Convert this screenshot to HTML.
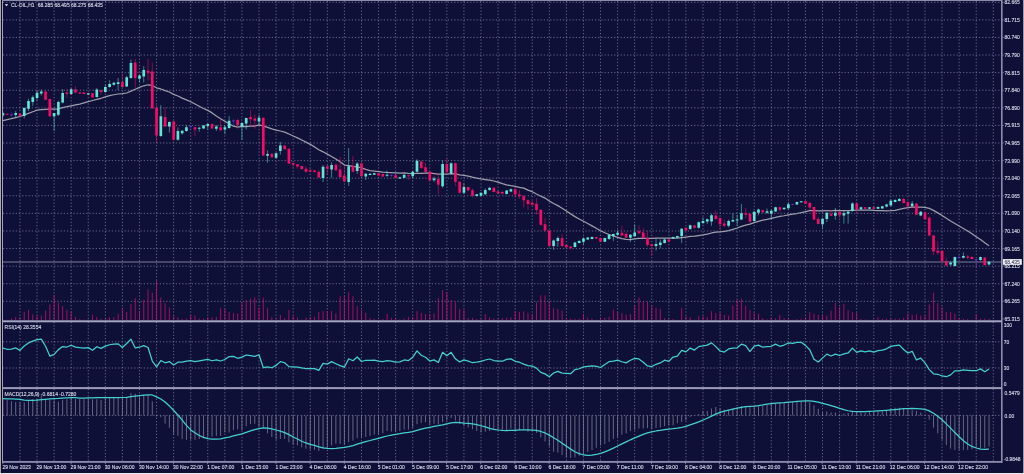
<!DOCTYPE html><html><head><meta charset="utf-8"><style>
html,body{margin:0;padding:0;width:1024px;height:474px;overflow:hidden;background:#0f1038}
svg{display:block}
text{font-family:"Liberation Sans",Arial,sans-serif;fill:#d4d8e8;stroke:#d4d8e8;stroke-width:0.15px}
</style></head><body>
<svg width="1024" height="474" viewBox="0 0 1024 474">
<rect x="0" y="0" width="1024" height="474" fill="#0f1038"/>
<path d="M19.96 1.0V320.0M19.96 322.0V387.0M19.96 389.0V461.0M37.03 1.0V320.0M37.03 322.0V387.0M37.03 389.0V461.0M54.11 1.0V320.0M54.11 322.0V387.0M54.11 389.0V461.0M71.18 1.0V320.0M71.18 322.0V387.0M71.18 389.0V461.0M88.26 1.0V320.0M88.26 322.0V387.0M88.26 389.0V461.0M105.34 1.0V320.0M105.34 322.0V387.0M105.34 389.0V461.0M122.41 1.0V320.0M122.41 322.0V387.0M122.41 389.0V461.0M139.49 1.0V320.0M139.49 322.0V387.0M139.49 389.0V461.0M156.56 1.0V320.0M156.56 322.0V387.0M156.56 389.0V461.0M173.64 1.0V320.0M173.64 322.0V387.0M173.64 389.0V461.0M190.72 1.0V320.0M190.72 322.0V387.0M190.72 389.0V461.0M207.79 1.0V320.0M207.79 322.0V387.0M207.79 389.0V461.0M224.87 1.0V320.0M224.87 322.0V387.0M224.87 389.0V461.0M241.94 1.0V320.0M241.94 322.0V387.0M241.94 389.0V461.0M259.02 1.0V320.0M259.02 322.0V387.0M259.02 389.0V461.0M276.10 1.0V320.0M276.10 322.0V387.0M276.10 389.0V461.0M293.17 1.0V320.0M293.17 322.0V387.0M293.17 389.0V461.0M310.25 1.0V320.0M310.25 322.0V387.0M310.25 389.0V461.0M327.32 1.0V320.0M327.32 322.0V387.0M327.32 389.0V461.0M344.40 1.0V320.0M344.40 322.0V387.0M344.40 389.0V461.0M361.48 1.0V320.0M361.48 322.0V387.0M361.48 389.0V461.0M378.55 1.0V320.0M378.55 322.0V387.0M378.55 389.0V461.0M395.63 1.0V320.0M395.63 322.0V387.0M395.63 389.0V461.0M412.70 1.0V320.0M412.70 322.0V387.0M412.70 389.0V461.0M429.78 1.0V320.0M429.78 322.0V387.0M429.78 389.0V461.0M446.86 1.0V320.0M446.86 322.0V387.0M446.86 389.0V461.0M463.93 1.0V320.0M463.93 322.0V387.0M463.93 389.0V461.0M481.01 1.0V320.0M481.01 322.0V387.0M481.01 389.0V461.0M498.08 1.0V320.0M498.08 322.0V387.0M498.08 389.0V461.0M515.16 1.0V320.0M515.16 322.0V387.0M515.16 389.0V461.0M532.24 1.0V320.0M532.24 322.0V387.0M532.24 389.0V461.0M549.31 1.0V320.0M549.31 322.0V387.0M549.31 389.0V461.0M566.39 1.0V320.0M566.39 322.0V387.0M566.39 389.0V461.0M583.46 1.0V320.0M583.46 322.0V387.0M583.46 389.0V461.0M600.54 1.0V320.0M600.54 322.0V387.0M600.54 389.0V461.0M617.62 1.0V320.0M617.62 322.0V387.0M617.62 389.0V461.0M634.69 1.0V320.0M634.69 322.0V387.0M634.69 389.0V461.0M651.77 1.0V320.0M651.77 322.0V387.0M651.77 389.0V461.0M668.84 1.0V320.0M668.84 322.0V387.0M668.84 389.0V461.0M685.92 1.0V320.0M685.92 322.0V387.0M685.92 389.0V461.0M703.00 1.0V320.0M703.00 322.0V387.0M703.00 389.0V461.0M720.07 1.0V320.0M720.07 322.0V387.0M720.07 389.0V461.0M737.15 1.0V320.0M737.15 322.0V387.0M737.15 389.0V461.0M754.22 1.0V320.0M754.22 322.0V387.0M754.22 389.0V461.0M771.30 1.0V320.0M771.30 322.0V387.0M771.30 389.0V461.0M788.38 1.0V320.0M788.38 322.0V387.0M788.38 389.0V461.0M805.45 1.0V320.0M805.45 322.0V387.0M805.45 389.0V461.0M822.53 1.0V320.0M822.53 322.0V387.0M822.53 389.0V461.0M839.60 1.0V320.0M839.60 322.0V387.0M839.60 389.0V461.0M856.68 1.0V320.0M856.68 322.0V387.0M856.68 389.0V461.0M873.76 1.0V320.0M873.76 322.0V387.0M873.76 389.0V461.0M890.83 1.0V320.0M890.83 322.0V387.0M890.83 389.0V461.0M907.91 1.0V320.0M907.91 322.0V387.0M907.91 389.0V461.0M924.98 1.0V320.0M924.98 322.0V387.0M924.98 389.0V461.0M942.06 1.0V320.0M942.06 322.0V387.0M942.06 389.0V461.0M959.14 1.0V320.0M959.14 322.0V387.0M959.14 389.0V461.0M976.21 1.0V320.0M976.21 322.0V387.0M976.21 389.0V461.0M993.29 1.0V320.0M993.29 322.0V387.0M993.29 389.0V461.0M3 2.27H1001M3 19.86H1001M3 37.45H1001M3 55.05H1001M3 72.64H1001M3 90.23H1001M3 107.82H1001M3 125.41H1001M3 143.01H1001M3 160.60H1001M3 178.19H1001M3 195.78H1001M3 213.37H1001M3 230.97H1001M3 248.56H1001M3 266.15H1001M3 283.74H1001M3 301.33H1001M3 341.80H1001M3 368.00H1001M3 415.40H1001" stroke="#9a9abb" stroke-width="1" stroke-dasharray="1.2 2.0" fill="none" opacity="0.64"/>
<path d="M2.88 319.00V320M7.15 319.70V320M11.42 318.50V320M15.69 317.10V320M19.96 317.10V320M24.22 311.90V320M28.49 310.00V320M32.76 314.40V320M37.03 316.00V320M41.30 315.60V320M45.57 310.60V320M49.84 304.40V320M54.11 295.00V320M58.38 302.75V320M62.65 306.00V320M66.91 309.75V320M71.18 311.50V320M75.45 317.00V320M79.72 319.00V320M83.99 319.50V320M88.26 319.50V320M92.53 314.75V320M96.80 317.00V320M101.07 318.75V320M105.34 318.75V320M109.61 317.00V320M113.87 317.00V320M118.14 313.75V320M122.41 307.75V320M126.68 311.90V320M130.95 304.00V320M135.22 298.10V320M139.49 310.60V320M143.76 299.75V320M148.03 289.40V320M152.29 292.75V320M156.56 281.00V320M160.83 297.50V320M165.10 303.10V320M169.37 307.50V320M173.64 316.00V320M177.91 317.25V320M182.18 319.00V320M186.45 318.75V320M190.72 315.00V320M194.99 315.60V320M199.25 318.50V320M203.52 318.75V320M207.79 317.25V320M212.06 317.25V320M216.33 316.90V320M220.60 308.10V320M224.87 309.00V320M229.14 312.25V320M233.41 313.10V320M237.68 313.50V320M241.94 302.75V320M246.21 300.00V320M250.48 298.50V320M254.75 297.25V320M259.02 307.50V320M263.29 297.75V320M267.56 308.10V320M271.83 317.25V320M276.10 319.00V320M280.37 315.00V320M284.63 318.10V320M288.90 310.00V320M293.17 316.00V320M297.44 317.50V320M301.71 319.40V320M305.98 317.75V320M310.25 316.90V320M314.52 316.90V320M318.79 311.90V320M323.06 311.00V320M327.32 311.00V320M331.59 311.00V320M335.86 313.50V320M340.13 296.00V320M344.40 295.60V320M348.67 292.25V320M352.94 296.25V320M357.21 306.00V320M361.48 310.00V320M365.75 312.75V320M370.01 318.10V320M374.28 318.90V320M378.55 319.75V320M382.82 319.00V320M387.09 314.00V320M391.36 317.75V320M395.63 318.50V320M399.90 319.40V320M404.17 318.75V320M408.44 316.90V320M412.70 316.90V320M416.97 311.00V320M421.24 313.10V320M425.51 314.00V320M429.78 314.00V320M434.05 313.50V320M438.32 298.10V320M442.59 290.00V320M446.86 292.50V320M451.12 300.00V320M455.39 302.25V320M459.66 308.75V320M463.93 309.75V320M468.20 318.10V320M472.47 317.75V320M476.74 319.00V320M481.01 319.00V320M485.28 314.00V320M489.55 317.50V320M493.81 318.50V320M498.08 319.20V320M502.35 318.10V320M506.62 317.75V320M510.89 317.25V320M515.16 311.00V320M519.43 311.90V320M523.70 311.25V320M527.97 312.75V320M532.24 314.40V320M536.50 302.25V320M540.77 295.25V320M545.04 295.25V320M549.31 301.00V320M553.58 308.10V320M557.85 309.00V320M562.12 310.60V320M566.39 318.10V320M570.66 318.75V320M574.93 318.75V320M579.20 318.75V320M583.46 314.00V320M587.73 317.75V320M592.00 318.75V320M596.27 319.75V320M600.54 317.75V320M604.81 317.75V320M609.08 316.90V320M613.35 309.75V320M617.62 311.50V320M621.88 313.10V320M626.15 314.75V320M630.42 314.00V320M634.69 305.60V320M638.96 297.50V320M643.23 301.90V320M647.50 301.90V320M651.77 305.60V320M656.04 307.75V320M660.31 308.75V320M664.58 318.10V320M668.84 319.00V320M673.11 319.00V320M677.38 319.75V320M681.65 307.75V320M685.92 316.25V320M690.19 317.25V320M694.46 319.75V320M698.73 316.25V320M703.00 316.25V320M707.26 317.25V320M711.53 311.25V320M715.80 313.10V320M720.07 312.50V320M724.34 315.00V320M728.61 315.60V320M732.88 305.60V320M737.15 300.00V320M741.42 298.50V320M745.69 305.60V320M749.96 310.00V320M754.22 312.75V320M758.49 313.75V320M762.76 318.10V320M767.03 319.40V320M771.30 317.75V320M775.57 318.50V320M779.84 315.00V320M784.11 318.10V320M788.38 318.50V320M792.64 319.75V320M796.91 319.00V320M801.18 318.75V320M805.45 317.50V320M809.72 312.25V320M813.99 313.75V320M818.26 314.75V320M822.53 314.75V320M826.80 315.60V320M831.07 310.60V320M835.34 302.75V320M839.60 306.90V320M843.87 303.75V320M848.14 310.00V320M852.41 312.25V320M856.68 312.75V320M860.95 319.00V320M865.22 319.40V320M869.49 319.75V320M873.76 319.40V320M878.02 317.25V320M882.29 318.75V320M886.56 318.75V320M890.83 319.00V320M895.10 318.75V320M899.37 318.75V320M903.64 317.75V320M907.91 313.50V320M912.18 315.00V320M916.45 314.40V320M920.72 315.60V320M924.98 315.60V320M929.25 304.40V320M933.52 292.75V320M937.79 303.10V320M942.06 306.90V320M946.33 311.90V320M950.60 312.25V320M954.87 313.50V320M959.14 318.10V320M963.40 318.75V320M967.67 319.00V320M971.94 319.75V320M976.21 314.40V320M980.48 318.75V320M984.75 318.75V320M989.02 319.00V320" stroke="#d0106e" stroke-width="0.75" fill="none"/>
<path d="M3 261.9H1001" stroke="#585878" stroke-width="1.5" fill="none"/>
<polyline points="2.88,120.60 7.15,119.58 11.42,118.56 15.69,117.53 19.96,116.51 24.22,114.92 28.49,113.33 32.76,111.74 37.03,110.18 41.30,109.68 45.57,109.38 49.84,109.20 54.11,109.02 58.38,108.84 62.65,107.72 66.91,106.70 71.18,105.82 75.45,104.94 79.72,104.06 83.99,102.88 88.26,101.63 92.53,100.52 96.80,99.32 101.07,98.28 105.34,96.86 109.61,95.66 113.87,94.75 118.14,94.00 122.41,93.71 126.68,93.00 130.95,91.16 135.22,89.25 139.49,87.36 143.76,85.77 148.03,84.76 152.29,85.47 156.56,87.78 160.83,88.97 165.10,90.61 169.37,92.02 173.64,94.34 177.91,96.02 182.18,98.07 186.45,99.84 190.72,101.80 194.99,104.07 199.25,106.32 203.52,108.48 207.79,110.34 212.06,112.89 216.33,116.07 220.60,118.69 224.87,121.28 229.14,123.82 233.41,126.20 237.68,127.04 241.94,126.42 246.21,126.51 250.48,126.14 254.75,126.07 259.02,124.97 263.29,126.20 267.56,127.36 271.83,128.86 276.10,130.21 280.37,131.01 284.63,132.08 288.90,133.99 293.17,136.02 297.44,137.92 301.71,140.04 305.98,142.11 310.25,144.33 314.52,146.90 318.79,149.74 323.06,151.82 327.32,154.12 331.59,156.47 335.86,159.03 340.13,161.84 344.40,165.02 348.67,165.56 352.94,166.45 357.21,166.77 361.48,167.91 365.75,169.33 370.01,170.55 374.28,171.03 378.55,171.58 382.82,172.08 387.09,172.37 391.36,172.56 395.63,172.86 399.90,173.12 404.17,172.98 408.44,173.45 412.70,173.60 416.97,173.38 421.24,173.27 425.51,173.02 429.78,172.96 434.05,173.56 438.32,174.21 442.59,174.23 446.86,174.03 451.12,173.51 455.39,173.92 459.66,174.90 463.93,175.47 468.20,176.17 472.47,177.22 476.74,178.16 481.01,178.92 485.28,179.55 489.55,180.20 493.81,180.99 498.08,182.06 502.35,183.70 506.62,184.82 510.89,185.69 515.16,186.40 519.43,187.30 523.70,188.08 527.97,190.08 532.24,191.70 536.50,194.04 540.77,196.19 545.04,198.07 549.31,201.03 553.58,203.53 557.85,205.64 562.12,208.23 566.39,210.95 570.66,213.88 574.93,216.61 579.20,219.06 583.46,221.32 587.73,223.52 592.00,225.86 596.27,228.32 600.54,230.69 604.81,232.78 609.08,234.50 613.35,235.99 617.62,237.40 621.88,238.67 626.15,239.32 630.42,239.53 634.69,238.84 638.96,238.48 643.23,238.48 647.50,238.43 651.77,238.37 656.04,238.15 660.31,238.15 664.58,238.07 668.84,238.22 673.11,238.19 677.38,238.15 681.65,237.65 685.92,237.10 690.19,236.46 694.46,236.10 698.73,235.51 703.00,234.92 707.26,234.11 711.53,232.98 715.80,232.21 720.07,231.80 724.34,231.43 728.61,230.57 732.88,229.32 737.15,228.00 741.42,226.46 745.69,225.07 749.96,224.19 754.22,222.70 758.49,221.33 762.76,220.14 767.03,219.27 771.30,218.27 775.57,217.37 779.84,216.47 784.11,215.75 788.38,214.91 792.64,214.18 796.91,213.51 801.18,212.62 805.45,211.59 809.72,210.68 813.99,210.59 818.26,210.80 822.53,210.76 826.80,210.73 831.07,210.78 835.34,210.34 839.60,210.51 843.87,210.69 848.14,210.67 852.41,210.29 856.68,210.23 860.95,210.23 865.22,210.19 869.49,210.17 873.76,210.40 878.02,210.52 882.29,210.74 886.56,210.89 890.83,210.74 895.10,210.36 899.37,209.33 903.64,208.28 907.91,207.66 912.18,207.20 916.45,207.15 920.72,207.09 924.98,207.29 929.25,208.41 933.52,210.39 937.79,212.85 942.06,215.43 946.33,218.34 950.60,221.04 954.87,223.53 959.14,225.96 963.40,228.42 967.67,231.00 971.94,233.73 976.21,236.65 980.48,239.51 984.75,242.81 989.02,245.76" stroke="#9c9eaa" stroke-width="1.25" fill="none" stroke-linejoin="round"/>
<path d="M2.88 111.50V117.00M15.69 111.00V117.60M24.22 107.50V118.30M28.49 98.70V111.00M32.76 95.50V105.80M37.03 90.30V100.60M41.30 89.50V95.50M54.11 113.00V131.00M58.38 100.70V116.00M62.65 89.00V103.60M71.18 88.10V94.80M88.26 93.00V95.00M96.80 88.10V97.40M105.34 84.70V92.80M109.61 80.30V87.70M113.87 81.80V85.50M118.14 78.00V89.90M126.68 75.90V87.00M130.95 59.60V78.80M139.49 74.40V82.50M143.76 66.20V82.50M160.83 105.10V136.90M169.37 121.40V132.40M177.91 127.30V140.60M182.18 130.20V134.70M186.45 125.00V131.70M199.25 127.00V131.70M203.52 125.00V128.80M207.79 123.60V129.50M216.33 125.10V131.00M224.87 125.10V134.00M229.14 116.20V128.80M241.94 122.20V139.90M246.21 117.70V129.50M259.02 114.80V125.10M267.56 150.30V162.80M276.10 152.50V158.40M280.37 141.90V154.70M323.06 165.10V182.10M331.59 162.20V177.70M348.67 148.10V185.80M357.21 162.20V174.00M365.75 173.20V179.90M370.01 173.30V175.30M374.28 172.80V175.10M387.09 170.70V176.90M399.90 176.90V178.80M404.17 174.30V178.10M412.70 171.00V178.40M416.97 159.20V172.50M434.05 176.60V181.80M442.59 160.30V187.70M451.12 162.60V174.40M463.93 183.20V193.60M476.74 194.00V196.50M481.01 192.50V196.10M485.28 188.40V195.10M489.55 187.00V190.70M506.62 190.00V194.40M510.89 188.50V192.20M553.58 239.50V249.80M557.85 236.50V246.90M574.93 241.70V247.60M579.20 240.20V243.20M583.46 237.30V244.70M587.73 237.20V239.90M592.00 236.80V239.20M604.81 237.70V242.10M609.08 234.00V239.90M613.35 233.70V241.10M617.62 230.30V235.50M630.42 234.00V242.10M634.69 224.40V236.90M656.04 238.70V250.60M660.31 239.50V248.30M664.58 238.70V243.50M673.11 236.60V238.80M677.38 235.80V238.00M681.65 228.10V243.20M690.19 224.70V229.90M698.73 221.30V228.70M703.00 217.30V224.30M707.26 218.50V223.80M711.53 214.00V225.80M728.61 219.60V227.30M732.88 213.20V222.10M737.15 214.70V225.80M741.42 203.90V220.20M754.22 210.80V221.70M758.49 208.70V215.30M767.03 208.60V213.70M771.30 209.70V219.30M775.57 206.80V212.00M784.11 207.40V209.70M788.38 202.30V209.30M796.91 201.60V205.00M801.18 201.00V202.70M822.53 217.70V228.70M826.80 212.20V222.10M835.34 208.10V219.60M843.87 211.00V223.60M848.14 210.50V223.60M852.41 202.20V211.80M860.95 206.60V209.60M869.49 207.00V209.20M878.02 206.50V209.20M882.29 206.00V208.80M886.56 203.60V207.30M890.83 199.20V205.80M895.10 199.20V202.20M899.37 198.00V201.40M912.18 201.00V206.60M920.72 211.00V216.20M950.60 261.20V265.90M954.87 256.60V266.30M963.40 252.40V258.30M980.48 256.60V260.80M989.02 261.20V265.00" stroke="#5fe6d6" stroke-width="0.7" fill="none" opacity="0.75"/>
<path d="M1.54 113.00h2.67v2.50h-2.67zM14.35 112.90h2.67v2.10h-2.67zM22.89 108.00h2.67v8.10h-2.67zM27.16 101.00h2.67v7.70h-2.67zM31.43 97.20h2.67v4.90h-2.67zM35.70 92.80h2.67v5.30h-2.67zM39.97 91.50h2.67v2.00h-2.67zM52.77 113.00h2.67v3.20h-2.67zM57.04 102.00h2.67v12.70h-2.67zM61.31 93.00h2.67v9.50h-2.67zM69.85 89.20h2.67v4.80h-2.67zM86.92 93.30h2.67v1.20h-2.67zM95.46 89.60h2.67v7.40h-2.67zM104.00 86.90h2.67v5.20h-2.67zM108.27 84.00h2.67v2.90h-2.67zM112.54 82.80h2.67v1.90h-2.67zM116.81 82.20h2.67v1.80h-2.67zM125.35 77.30h2.67v9.30h-2.67zM129.61 63.00h2.67v15.00h-2.67zM138.15 75.40h2.67v3.40h-2.67zM142.42 70.00h2.67v6.60h-2.67zM159.50 116.20h2.67v19.90h-2.67zM168.04 122.10h2.67v4.40h-2.67zM176.57 131.00h2.67v8.80h-2.67zM180.84 130.70h2.67v2.50h-2.67zM185.11 127.30h2.67v3.70h-2.67zM197.92 127.70h2.67v1.00h-2.67zM202.19 125.50h2.67v2.90h-2.67zM206.46 124.00h2.67v2.00h-2.67zM215.00 126.60h2.67v2.20h-2.67zM223.53 127.30h2.67v2.20h-2.67zM227.80 120.70h2.67v7.40h-2.67zM240.61 122.90h2.67v3.70h-2.67zM244.88 118.00h2.67v5.60h-2.67zM257.69 117.70h2.67v3.70h-2.67zM266.22 154.00h2.67v1.70h-2.67zM274.76 153.20h2.67v4.50h-2.67zM279.03 145.40h2.67v5.60h-2.67zM321.72 166.70h2.67v11.30h-2.67zM330.26 165.10h2.67v4.40h-2.67zM347.33 166.30h2.67v15.80h-2.67zM355.87 163.60h2.67v7.40h-2.67zM364.41 173.70h2.67v2.90h-2.67zM368.68 173.70h2.67v1.20h-2.67zM372.95 173.20h2.67v1.50h-2.67zM385.76 174.70h2.67v1.00h-2.67zM398.56 177.20h2.67v1.20h-2.67zM402.83 174.70h2.67v3.00h-2.67zM411.37 171.80h2.67v4.40h-2.67zM415.64 160.70h2.67v11.10h-2.67zM432.71 178.40h2.67v1.90h-2.67zM441.25 164.00h2.67v22.20h-2.67zM449.79 163.30h2.67v10.30h-2.67zM462.60 186.90h2.67v5.90h-2.67zM475.40 194.30h2.67v1.80h-2.67zM479.67 192.80h2.67v3.00h-2.67zM483.94 189.90h2.67v4.30h-2.67zM488.21 187.70h2.67v2.30h-2.67zM505.29 190.40h2.67v3.50h-2.67zM509.56 189.20h2.67v2.20h-2.67zM552.25 240.50h2.67v5.60h-2.67zM556.51 238.00h2.67v3.00h-2.67zM573.59 242.40h2.67v4.50h-2.67zM577.86 241.00h2.67v1.90h-2.67zM582.13 238.40h2.67v3.30h-2.67zM586.40 237.60h2.67v1.90h-2.67zM590.67 237.10h2.67v1.80h-2.67zM603.47 238.10h2.67v3.60h-2.67zM607.74 234.70h2.67v4.40h-2.67zM612.01 234.00h2.67v2.20h-2.67zM616.28 232.80h2.67v1.90h-2.67zM629.09 234.70h2.67v3.00h-2.67zM633.36 232.50h2.67v3.70h-2.67zM654.70 243.90h2.67v2.20h-2.67zM658.97 242.40h2.67v2.50h-2.67zM663.24 239.50h2.67v3.40h-2.67zM671.78 237.00h2.67v1.40h-2.67zM676.05 236.10h2.67v1.50h-2.67zM680.32 228.70h2.67v7.40h-2.67zM688.85 225.20h2.67v3.90h-2.67zM697.39 222.20h2.67v5.50h-2.67zM701.66 220.90h2.67v2.20h-2.67zM705.93 219.30h2.67v2.30h-2.67zM710.20 215.20h2.67v6.20h-2.67zM727.27 221.10h2.67v4.70h-2.67zM731.54 219.90h2.67v1.50h-2.67zM735.81 219.60h2.67v1.00h-2.67zM740.08 213.20h2.67v6.40h-2.67zM752.89 211.80h2.67v9.30h-2.67zM757.16 209.60h2.67v3.20h-2.67zM765.70 211.20h2.67v1.50h-2.67zM769.97 210.70h2.67v3.00h-2.67zM774.23 207.20h2.67v4.40h-2.67zM782.77 207.80h2.67v1.50h-2.67zM787.04 204.20h2.67v4.00h-2.67zM795.58 201.90h2.67v2.60h-2.67zM799.85 201.30h2.67v1.00h-2.67zM821.19 218.70h2.67v5.60h-2.67zM825.46 212.80h2.67v6.30h-2.67zM834.00 212.80h2.67v2.90h-2.67zM842.54 213.20h2.67v2.30h-2.67zM846.81 211.80h2.67v1.90h-2.67zM851.08 203.60h2.67v7.40h-2.67zM859.61 207.30h2.67v1.90h-2.67zM868.15 207.30h2.67v1.50h-2.67zM876.69 206.90h2.67v1.90h-2.67zM880.96 206.30h2.67v2.10h-2.67zM885.23 204.40h2.67v2.20h-2.67zM889.50 200.70h2.67v4.70h-2.67zM893.77 199.90h2.67v2.00h-2.67zM898.03 198.90h2.67v2.10h-2.67zM910.84 203.60h2.67v2.70h-2.67zM919.38 211.80h2.67v3.70h-2.67zM949.26 262.80h2.67v1.70h-2.67zM953.53 257.10h2.67v8.80h-2.67zM962.07 256.10h2.67v1.70h-2.67zM979.15 257.10h2.67v2.90h-2.67zM987.68 261.70h2.67v2.80h-2.67z" fill="#5fe6d6"/>
<path d="M7.15 113.50V115.00M19.96 113.00V116.50M45.57 90.50V100.00M49.84 98.70V117.00M66.91 88.60V97.70M75.45 86.20V93.30M79.72 92.00V94.00M83.99 92.30V94.30M92.53 93.00V97.60M101.07 90.00V94.30M122.41 73.60V87.70M135.22 58.90V87.70M148.03 58.90V80.30M152.29 62.60V109.00M156.56 105.10V142.00M165.10 107.30V127.30M173.64 120.70V140.60M194.99 127.30V136.10M212.06 123.60V128.80M220.60 119.20V131.00M237.68 118.50V128.80M250.48 110.00V127.30M254.75 114.80V128.80M263.29 117.40V156.00M271.83 153.30V157.70M284.63 145.10V149.60M288.90 148.50V164.00M293.17 162.80V168.70M297.44 164.00V168.40M301.71 165.80V169.50M305.98 166.50V172.40M310.25 168.00V172.40M314.52 170.20V172.40M318.79 170.20V177.80M327.32 164.40V174.70M335.86 163.60V171.00M340.13 157.00V177.70M344.40 165.80V182.10M352.94 156.20V172.50M361.48 162.90V176.90M378.55 173.00V176.20M382.82 173.70V177.00M395.63 174.90V178.10M408.44 174.90V179.90M421.24 160.70V168.80M425.51 162.90V172.50M429.78 170.70V181.40M438.32 172.90V194.30M446.86 158.90V174.40M455.39 162.60V186.20M459.66 181.40V193.60M468.20 186.50V191.00M472.47 188.40V197.30M493.81 187.00V192.20M498.08 191.00V193.60M502.35 190.70V194.40M515.16 187.70V196.60M519.43 190.00V198.80M523.70 195.10V207.70M527.97 199.50V209.90M532.24 201.00V205.50M536.50 198.10V214.40M540.77 209.20V225.50M545.04 218.10V232.10M549.31 229.90V246.90M562.12 234.30V246.90M566.39 244.50V247.80M570.66 246.00V249.10M596.27 236.80V238.90M600.54 237.70V242.10M621.88 225.80V236.20M626.15 231.80V238.10M638.96 225.40V234.00M643.23 228.10V238.70M647.50 231.00V246.70M651.77 243.70V256.00M668.84 239.20V242.40M685.92 227.00V231.30M694.46 224.70V228.50M715.80 210.30V219.60M720.07 217.70V229.50M724.34 219.90V227.00M745.69 208.10V218.40M749.96 213.20V222.80M762.76 209.60V213.10M779.84 206.80V211.90M805.45 201.00V204.20M809.72 201.60V209.70M813.99 206.90V219.80M818.26 216.90V224.30M831.07 209.50V216.20M839.60 211.00V217.70M856.68 202.20V212.80M865.22 207.00V209.20M873.76 207.00V209.20M903.64 197.70V203.30M907.91 201.90V209.50M916.45 202.90V215.10M924.98 211.50V219.80M929.25 216.10V236.40M933.52 235.20V254.90M937.79 241.40V254.90M942.06 249.80V261.70M946.33 257.80V265.90M967.67 254.90V259.10M971.94 256.00V259.40M984.75 257.10V265.50" stroke="#f50c66" stroke-width="0.7" fill="none" opacity="0.75"/>
<path d="M5.81 113.80h2.67v1.00h-2.67zM18.62 113.50h2.67v2.30h-2.67zM44.23 91.50h2.67v8.30h-2.67zM48.50 99.00h2.67v17.20h-2.67zM65.58 92.60h2.67v1.40h-2.67zM74.12 89.60h2.67v3.00h-2.67zM78.39 92.60h2.67v1.00h-2.67zM82.66 92.60h2.67v1.40h-2.67zM91.19 93.30h2.67v4.10h-2.67zM99.73 90.30h2.67v1.80h-2.67zM121.08 81.80h2.67v5.10h-2.67zM133.88 62.60h2.67v15.40h-2.67zM146.69 70.70h2.67v2.20h-2.67zM150.96 71.40h2.67v36.90h-2.67zM155.23 108.00h2.67v27.40h-2.67zM163.77 116.90h2.67v9.60h-2.67zM172.30 121.40h2.67v18.40h-2.67zM193.65 127.30h2.67v2.20h-2.67zM210.73 124.10h2.67v4.30h-2.67zM219.26 127.30h2.67v3.00h-2.67zM236.34 119.90h2.67v5.20h-2.67zM249.15 117.00h2.67v2.20h-2.67zM253.42 118.50h2.67v2.20h-2.67zM261.95 117.70h2.67v37.90h-2.67zM270.49 153.70h2.67v3.50h-2.67zM283.30 145.40h2.67v3.80h-2.67zM287.57 148.80h2.67v14.80h-2.67zM291.84 163.10h2.67v1.50h-2.67zM296.11 164.30h2.67v2.20h-2.67zM300.38 166.10h2.67v2.90h-2.67zM304.64 168.70h2.67v3.00h-2.67zM308.91 170.20h2.67v1.50h-2.67zM313.18 170.50h2.67v1.50h-2.67zM317.45 171.70h2.67v5.80h-2.67zM325.99 166.30h2.67v2.50h-2.67zM334.53 164.80h2.67v5.50h-2.67zM338.80 169.50h2.67v7.40h-2.67zM343.06 175.50h2.67v5.90h-2.67zM351.60 165.80h2.67v6.00h-2.67zM360.14 163.30h2.67v12.90h-2.67zM377.22 173.30h2.67v2.20h-2.67zM381.49 174.00h2.67v2.60h-2.67zM394.29 175.20h2.67v2.50h-2.67zM407.10 175.20h2.67v1.00h-2.67zM419.91 161.40h2.67v6.70h-2.67zM424.18 167.30h2.67v4.50h-2.67zM428.45 171.80h2.67v8.40h-2.67zM436.98 178.80h2.67v5.90h-2.67zM445.52 164.00h2.67v8.20h-2.67zM454.06 163.30h2.67v18.50h-2.67zM458.33 181.80h2.67v11.00h-2.67zM466.87 186.90h2.67v3.70h-2.67zM471.14 190.20h2.67v5.60h-2.67zM492.48 187.70h2.67v4.20h-2.67zM496.75 191.40h2.67v1.90h-2.67zM501.02 191.90h2.67v1.70h-2.67zM513.82 189.20h2.67v5.20h-2.67zM518.09 194.40h2.67v1.90h-2.67zM522.36 196.30h2.67v4.00h-2.67zM526.63 200.30h2.67v3.70h-2.67zM530.90 202.80h2.67v1.90h-2.67zM535.17 203.70h2.67v6.40h-2.67zM539.44 209.70h2.67v15.00h-2.67zM543.71 224.30h2.67v6.30h-2.67zM547.98 230.60h2.67v15.50h-2.67zM560.78 238.00h2.67v8.10h-2.67zM565.05 244.90h2.67v2.40h-2.67zM569.32 246.40h2.67v1.90h-2.67zM594.94 237.10h2.67v1.40h-2.67zM599.20 238.10h2.67v3.60h-2.67zM620.55 232.80h2.67v2.70h-2.67zM624.82 234.00h2.67v3.70h-2.67zM637.63 231.30h2.67v1.90h-2.67zM641.89 232.50h2.67v5.60h-2.67zM646.16 237.90h2.67v7.10h-2.67zM650.43 244.30h2.67v1.80h-2.67zM667.51 239.50h2.67v1.90h-2.67zM684.58 227.70h2.67v2.90h-2.67zM693.12 225.50h2.67v2.20h-2.67zM714.47 215.50h2.67v3.60h-2.67zM718.74 218.10h2.67v6.20h-2.67zM723.01 223.60h2.67v2.20h-2.67zM744.35 213.20h2.67v1.50h-2.67zM748.62 213.70h2.67v8.00h-2.67zM761.43 210.20h2.67v2.00h-2.67zM778.50 207.20h2.67v2.50h-2.67zM804.12 201.30h2.67v2.50h-2.67zM808.39 203.10h2.67v4.40h-2.67zM812.65 207.10h2.67v12.30h-2.67zM816.92 218.90h2.67v5.10h-2.67zM829.73 213.70h2.67v2.00h-2.67zM838.27 211.80h2.67v3.40h-2.67zM855.35 203.60h2.67v5.90h-2.67zM863.88 207.30h2.67v1.50h-2.67zM872.42 207.30h2.67v1.50h-2.67zM902.30 198.90h2.67v4.00h-2.67zM906.57 202.20h2.67v4.10h-2.67zM915.11 203.60h2.67v11.10h-2.67zM923.65 212.20h2.67v6.90h-2.67zM927.92 217.80h2.67v17.70h-2.67zM932.19 235.50h2.67v16.00h-2.67zM936.46 250.70h2.67v2.00h-2.67zM940.73 251.00h2.67v10.20h-2.67zM944.99 261.20h2.67v4.30h-2.67zM966.34 256.60h2.67v1.20h-2.67zM970.61 257.10h2.67v2.00h-2.67zM983.41 257.40h2.67v7.60h-2.67z" fill="#f50c66"/>
<path d="M11.42 112.40V116.90M190.72 125.40V130.00M233.41 118.90V125.00M391.36 173.70V177.00M792.64 203.80V205.20M959.14 255.00V259.00M976.21 258.80V267.60" stroke="#7d2ee6" stroke-width="0.7" fill="none" opacity="0.75"/>
<path d="M10.08 114.50h2.67v0.80h-2.67zM189.38 125.90h2.67v0.80h-2.67zM232.07 120.40h2.67v0.80h-2.67zM390.02 175.30h2.67v0.80h-2.67zM791.31 204.30h2.67v0.80h-2.67zM957.80 257.20h2.67v0.80h-2.67zM974.88 258.90h2.67v0.80h-2.67z" fill="#7d2ee6"/>
<polyline points="2.88,348.05 7.15,349.26 11.42,349.08 15.69,347.98 19.96,350.34 24.22,345.97 28.49,342.92 32.76,341.15 37.03,339.68 41.30,339.18 45.57,346.25 49.84,356.10 54.11,354.44 58.38,349.62 62.65,346.59 66.91,347.04 71.18,345.24 75.45,347.19 79.72,347.71 83.99,348.09 88.26,347.63 92.53,350.31 96.80,346.73 101.07,348.38 105.34,346.09 109.61,344.75 113.87,344.04 118.14,343.89 122.41,347.56 126.68,343.49 130.95,339.17 135.22,347.98 139.49,347.24 143.76,345.70 148.03,347.49 152.29,361.02 156.56,366.86 160.83,360.57 165.10,362.81 169.37,361.59 173.64,364.93 177.91,362.21 182.18,362.12 186.45,361.03 190.72,360.73 194.99,361.57 199.25,360.81 203.52,360.07 207.79,359.37 212.06,360.75 216.33,359.86 220.60,360.98 224.87,359.53 229.14,356.58 233.41,356.42 237.68,358.28 241.94,357.13 246.21,355.01 250.48,355.61 254.75,356.37 259.02,354.78 263.29,367.67 267.56,366.95 271.83,367.75 276.10,365.41 280.37,361.63 284.63,362.75 288.90,366.59 293.17,366.77 297.44,367.18 301.71,367.94 305.98,368.57 310.25,368.66 314.52,368.70 318.79,370.32 323.06,363.44 327.32,364.16 331.59,361.62 335.86,363.69 340.13,365.69 344.40,367.18 348.67,358.80 352.94,360.73 357.21,356.98 361.48,361.51 365.75,360.25 370.01,360.37 374.28,360.16 378.55,361.10 382.82,361.58 387.09,360.57 391.36,361.05 395.63,362.14 399.90,361.83 404.17,359.95 408.44,360.60 412.70,357.37 416.97,350.87 421.24,355.24 425.51,357.27 429.78,361.08 434.05,359.85 438.32,362.54 442.59,352.35 446.86,355.79 451.12,352.31 455.39,358.86 459.66,361.96 463.93,359.93 468.20,361.13 472.47,362.72 476.74,362.18 481.01,361.43 485.28,360.01 489.55,358.99 493.81,360.52 498.08,361.11 502.35,361.21 506.62,359.40 510.89,358.84 515.16,361.31 519.43,362.20 523.70,364.07 527.97,365.57 532.24,366.02 536.50,368.07 540.77,372.40 545.04,373.86 549.31,376.78 553.58,372.99 557.85,371.35 562.12,373.09 566.39,373.43 570.66,373.71 574.93,369.65 579.20,368.74 583.46,366.95 587.73,366.30 592.00,365.79 596.27,366.29 600.54,367.51 604.81,364.47 609.08,361.68 613.35,361.07 617.62,360.21 621.88,361.76 626.15,362.90 630.42,360.25 634.69,358.41 638.96,358.94 643.23,362.28 647.50,365.97 651.77,366.57 656.04,364.32 660.31,362.95 664.58,360.18 668.84,361.42 673.11,357.03 677.38,356.08 681.65,350.32 685.92,351.85 690.19,348.08 694.46,350.07 698.73,346.62 703.00,345.97 707.26,345.07 711.53,342.88 715.80,346.63 720.07,350.98 724.34,352.02 728.61,348.99 732.88,348.24 737.15,347.84 741.42,344.17 745.69,345.63 749.96,351.54 754.22,346.11 758.49,345.07 762.76,347.22 767.03,346.62 771.30,346.26 775.57,344.14 779.84,346.29 784.11,345.05 788.38,342.99 792.64,343.28 796.91,342.36 801.18,342.27 805.45,345.38 809.72,349.69 813.99,359.18 818.26,361.98 822.53,358.11 826.80,354.11 831.07,355.95 835.34,354.06 839.60,355.51 843.87,353.88 848.14,352.97 852.41,348.08 856.68,352.33 860.95,350.85 865.22,351.94 869.49,350.85 873.76,352.12 878.02,350.71 882.29,350.19 886.56,348.82 890.83,346.41 895.10,345.67 899.37,345.15 903.64,349.46 907.91,353.00 912.18,351.33 916.45,359.93 920.72,358.09 924.98,362.80 929.25,369.62 933.52,373.78 937.79,374.29 942.06,375.98 946.33,376.71 950.60,374.85 954.87,370.89 959.14,370.90 963.40,369.97 967.67,370.31 971.94,370.64 976.21,370.70 980.48,368.88 984.75,371.73 989.02,368.96" stroke="#45cfcf" stroke-width="1.25" fill="none" stroke-linejoin="round"/>
<path d="M2.88 415.4V399.50M7.15 415.4V400.20M11.42 415.4V401.20M15.69 415.4V402.10M19.96 415.4V402.40M24.22 415.4V402.40M28.49 415.4V400.80M32.76 415.4V399.10M37.03 415.4V398.90M41.30 415.4V395.30M45.57 415.4V398.90M49.84 415.4V399.50M54.11 415.4V400.40M58.38 415.4V401.70M62.65 415.4V399.90M66.91 415.4V399.10M71.18 415.4V397.90M75.45 415.4V398.90M79.72 415.4V399.10M83.99 415.4V399.10M88.26 415.4V399.10M92.53 415.4V399.50M96.80 415.4V399.10M101.07 415.4V399.90M105.34 415.4V398.30M109.61 415.4V397.90M113.87 415.4V397.90M118.14 415.4V397.90M122.41 415.4V397.60M126.68 415.4V397.20M130.95 415.4V393.20M135.22 415.4V393.70M139.49 415.4V396.40M143.76 415.4V394.80M148.03 415.4V394.80M152.29 415.4V401.20M156.56 415.4V416.50M160.83 415.4V417.30M165.10 415.4V423.70M169.37 415.4V427.70M173.64 415.4V434.20M177.91 415.4V435.80M182.18 415.4V439.00M186.45 415.4V439.80M190.72 415.4V439.80M194.99 415.4V439.80M199.25 415.4V439.00M203.52 415.4V438.20M207.79 415.4V437.40M212.06 415.4V436.60M216.33 415.4V435.80M220.60 415.4V435.80M224.87 415.4V432.50M229.14 415.4V432.50M233.41 415.4V430.10M237.68 415.4V429.30M241.94 415.4V430.10M246.21 415.4V426.10M250.48 415.4V424.00M254.75 415.4V423.70M259.02 415.4V426.90M263.29 415.4V427.70M267.56 415.4V433.40M271.83 415.4V437.00M276.10 415.4V439.80M280.37 415.4V439.00M284.63 415.4V439.00M288.90 415.4V442.20M293.17 415.4V444.60M297.44 415.4V445.40M301.71 415.4V447.30M305.98 415.4V448.60M310.25 415.4V449.40M314.52 415.4V449.90M318.79 415.4V451.00M323.06 415.4V448.60M327.32 415.4V447.00M331.59 415.4V445.40M335.86 415.4V443.80M340.13 415.4V443.80M344.40 415.4V444.60M348.67 415.4V442.20M352.94 415.4V440.60M357.21 415.4V438.20M361.48 415.4V437.40M365.75 415.4V437.00M370.01 415.4V435.80M374.28 415.4V434.60M378.55 415.4V434.20M382.82 415.4V433.40M387.09 415.4V431.00M391.36 415.4V431.70M395.63 415.4V431.70M399.90 415.4V431.00M404.17 415.4V429.70M408.44 415.4V429.70M412.70 415.4V427.70M416.97 415.4V424.20M421.24 415.4V422.90M425.51 415.4V422.10M429.78 415.4V424.50M434.05 415.4V423.70M438.32 415.4V424.50M442.59 415.4V422.10M446.86 415.4V420.50M451.12 415.4V418.10M455.39 415.4V420.50M459.66 415.4V423.70M463.93 415.4V426.10M468.20 415.4V427.40M472.47 415.4V429.30M476.74 415.4V431.00M481.01 415.4V432.50M485.28 415.4V431.70M489.55 415.4V431.00M493.81 415.4V430.10M498.08 415.4V430.50M502.35 415.4V430.10M506.62 415.4V430.10M510.89 415.4V428.50M515.16 415.4V430.10M519.43 415.4V430.10M523.70 415.4V429.30M527.97 415.4V431.70M532.24 415.4V430.10M536.50 415.4V432.90M540.77 415.4V437.40M545.04 415.4V441.40M549.31 415.4V446.20M553.58 415.4V451.80M557.85 415.4V452.60M562.12 415.4V455.00M566.39 415.4V457.40M570.66 415.4V457.90M574.93 415.4V457.40M579.20 415.4V455.80M583.46 415.4V454.20M587.73 415.4V452.10M592.00 415.4V450.20M596.27 415.4V447.80M600.54 415.4V445.40M604.81 415.4V444.10M609.08 415.4V441.90M613.35 415.4V439.00M617.62 415.4V437.00M621.88 415.4V434.60M626.15 415.4V433.40M630.42 415.4V431.00M634.69 415.4V429.70M638.96 415.4V428.50M643.23 415.4V428.50M647.50 415.4V428.10M651.77 415.4V429.30M656.04 415.4V428.10M660.31 415.4V427.40M664.58 415.4V426.10M668.84 415.4V425.30M673.11 415.4V425.30M677.38 415.4V423.20M681.65 415.4V422.10M685.92 415.4V420.50M690.19 415.4V416.80M694.46 415.4V415.70M698.73 415.4V414.10M703.00 415.4V410.90M707.26 415.4V410.90M711.53 415.4V408.50M715.80 415.4V406.90M720.07 415.4V408.50M724.34 415.4V409.80M728.61 415.4V409.80M732.88 415.4V408.50M737.15 415.4V407.70M741.42 415.4V406.10M745.69 415.4V406.50M749.96 415.4V407.20M754.22 415.4V406.10M758.49 415.4V405.60M762.76 415.4V405.60M767.03 415.4V404.90M771.30 415.4V404.00M775.57 415.4V403.30M779.84 415.4V402.90M784.11 415.4V402.90M788.38 415.4V402.10M792.64 415.4V402.10M796.91 415.4V401.20M801.18 415.4V401.20M805.45 415.4V400.80M809.72 415.4V402.10M813.99 415.4V405.30M818.26 415.4V408.80M822.53 415.4V412.50M826.80 415.4V411.40M831.07 415.4V412.50M835.34 415.4V412.50M839.60 415.4V414.10M843.87 415.4V413.60M848.14 415.4V413.00M852.41 415.4V411.70M856.68 415.4V411.70M860.95 415.4V412.50M865.22 415.4V412.50M869.49 415.4V411.70M873.76 415.4V411.70M878.02 415.4V411.40M882.29 415.4V411.40M886.56 415.4V410.10M890.83 415.4V408.50M895.10 415.4V407.70M899.37 415.4V407.70M903.64 415.4V408.50M907.91 415.4V409.30M912.18 415.4V410.10M916.45 415.4V410.90M920.72 415.4V412.50M924.98 415.4V414.90M929.25 415.4V419.70M933.52 415.4V427.70M937.79 415.4V433.40M942.06 415.4V439.80M946.33 415.4V445.10M950.60 415.4V448.60M954.87 415.4V449.90M959.14 415.4V449.90M963.40 415.4V450.20M967.67 415.4V449.90M971.94 415.4V449.40M976.21 415.4V447.00M980.48 415.4V448.60M984.75 415.4V447.80M989.02 415.4V446.70" stroke="#8a8aa0" stroke-width="0.7" fill="none"/>
<polyline points="2.88,398.61 7.15,398.76 11.42,398.90 15.69,399.19 19.96,399.48 24.22,400.19 28.49,400.40 32.76,400.40 37.03,400.22 41.30,399.58 45.57,399.27 49.84,398.90 54.11,398.57 58.38,398.40 62.65,398.02 66.91,397.76 71.18,397.58 75.45,397.57 79.72,398.03 83.99,398.03 88.26,397.99 92.53,397.86 96.80,397.54 101.07,397.57 105.34,397.52 109.61,397.58 113.87,397.59 118.14,397.57 122.41,397.50 126.68,397.32 130.95,396.61 135.22,396.04 139.49,395.61 143.76,395.15 148.03,394.76 152.29,394.99 156.56,396.89 160.83,399.03 165.10,402.01 169.37,405.92 173.64,410.45 177.91,414.99 182.18,420.14 186.45,425.39 190.72,429.94 194.99,432.82 199.25,435.48 203.52,437.33 207.79,438.62 212.06,439.07 216.33,439.14 220.60,438.80 224.87,437.93 229.14,437.08 233.41,435.97 237.68,434.82 241.94,433.79 246.21,432.41 250.48,430.94 254.75,429.55 259.02,428.52 263.29,427.98 267.56,428.05 271.83,428.80 276.10,430.00 280.37,431.06 284.63,432.57 288.90,434.64 293.17,436.95 297.44,439.04 301.71,441.25 305.98,442.97 310.25,444.33 314.52,445.45 318.79,446.78 323.06,447.87 327.32,448.44 331.59,448.57 335.86,448.37 340.13,447.93 344.40,447.45 348.67,446.64 352.94,445.61 357.21,444.17 361.48,442.83 365.75,441.63 370.01,440.49 374.28,439.47 378.55,438.43 382.82,437.20 387.09,436.00 391.36,435.04 395.63,434.37 399.90,433.71 404.17,432.94 408.44,432.30 412.70,431.53 416.97,430.40 421.24,429.20 425.51,428.16 429.78,427.31 434.05,426.37 438.32,425.65 442.59,424.83 446.86,423.81 451.12,422.78 455.39,422.40 459.66,422.57 463.93,423.07 468.20,423.40 472.47,423.98 476.74,424.64 481.01,425.75 485.28,426.96 489.55,428.33 493.81,429.35 498.08,430.00 502.35,430.34 506.62,430.53 510.89,430.37 515.16,430.26 519.43,429.98 523.70,429.76 527.97,429.93 532.24,430.05 536.50,430.46 540.77,431.47 545.04,432.95 549.31,435.15 553.58,437.72 557.85,440.34 562.12,443.24 566.39,446.11 570.66,449.13 574.93,451.79 579.20,453.70 583.46,454.98 587.73,455.46 592.00,455.15 596.27,454.49 600.54,453.35 604.81,451.86 609.08,450.13 613.35,448.10 617.62,446.04 621.88,443.89 626.15,441.86 630.42,439.81 634.69,437.88 638.96,436.08 643.23,434.36 647.50,432.87 651.77,431.86 656.04,430.99 660.31,430.34 664.58,429.64 668.84,429.06 673.11,428.62 677.38,428.03 681.65,427.30 685.92,426.40 690.19,424.91 694.46,423.44 698.73,421.82 703.00,420.00 707.26,418.23 711.53,416.15 715.80,414.14 720.07,412.44 724.34,411.05 728.61,410.11 732.88,409.10 737.15,408.13 741.42,407.32 745.69,406.60 749.96,406.28 754.22,406.04 758.49,405.56 762.76,404.95 767.03,404.24 771.30,403.63 775.57,403.11 779.84,402.80 784.11,402.51 788.38,402.08 792.64,401.77 796.91,401.45 801.18,401.17 805.45,400.93 809.72,400.92 813.99,401.33 818.26,402.14 822.53,403.30 826.80,404.40 831.07,405.63 835.34,406.90 839.60,408.29 843.87,409.64 848.14,410.75 852.41,411.37 856.68,411.60 860.95,411.51 865.22,411.53 869.49,411.33 873.76,411.17 878.02,410.84 882.29,410.59 886.56,410.29 890.83,409.95 895.10,409.56 899.37,409.08 903.64,408.69 907.91,408.51 912.18,408.45 916.45,408.51 920.72,408.76 924.98,409.43 929.25,410.84 933.52,413.20 937.79,416.19 942.06,419.80 946.33,423.87 950.60,428.17 954.87,432.57 959.14,436.74 963.40,440.69 967.67,444.03 971.94,446.46 976.21,448.00 980.48,449.02 984.75,449.37 989.02,449.24" stroke="#45cfcf" stroke-width="1.25" fill="none" stroke-linejoin="round"/>
<rect x="0" y="0" width="1" height="474" fill="#a8a8a8"/><rect x="1" y="0" width="1" height="473" fill="#0a0a26"/><rect x="2" y="0" width="1" height="463" fill="#a2a2c0"/><rect x="2" y="0" width="1000" height="1" fill="#8c8cac"/><rect x="1001" y="0" width="1.6" height="463" fill="#8c8cac"/><rect x="2" y="320.3" width="1000" height="2" fill="#a4a4c0"/><rect x="2" y="387.1" width="1000" height="2" fill="#9c9cb8"/><rect x="2" y="461" width="1000" height="1.8" fill="#8c8cac"/><rect x="0" y="473" width="1024" height="1" fill="#ececec"/><rect x="1023" y="0" width="1" height="473" fill="#9c9cac"/>
<text x="1004.6" y="4.2" font-size="6.10" textLength="15.14" lengthAdjust="spacingAndGlyphs">82.665</text><rect x="1002.4" y="1.82" width="1.2" height="0.9" fill="#8c8cac"/><text x="1004.6" y="21.8" font-size="6.10" textLength="15.14" lengthAdjust="spacingAndGlyphs">81.715</text><rect x="1002.4" y="19.41" width="1.2" height="0.9" fill="#8c8cac"/><text x="1004.6" y="39.4" font-size="6.10" textLength="15.14" lengthAdjust="spacingAndGlyphs">80.740</text><rect x="1002.4" y="37.00" width="1.2" height="0.9" fill="#8c8cac"/><text x="1004.6" y="56.9" font-size="6.10" textLength="15.14" lengthAdjust="spacingAndGlyphs">79.790</text><rect x="1002.4" y="54.60" width="1.2" height="0.9" fill="#8c8cac"/><text x="1004.6" y="74.5" font-size="6.10" textLength="15.14" lengthAdjust="spacingAndGlyphs">78.815</text><rect x="1002.4" y="72.19" width="1.2" height="0.9" fill="#8c8cac"/><text x="1004.6" y="92.1" font-size="6.10" textLength="15.14" lengthAdjust="spacingAndGlyphs">77.840</text><rect x="1002.4" y="89.78" width="1.2" height="0.9" fill="#8c8cac"/><text x="1004.6" y="109.7" font-size="6.10" textLength="15.14" lengthAdjust="spacingAndGlyphs">76.890</text><rect x="1002.4" y="107.37" width="1.2" height="0.9" fill="#8c8cac"/><text x="1004.6" y="127.3" font-size="6.10" textLength="15.14" lengthAdjust="spacingAndGlyphs">75.915</text><rect x="1002.4" y="124.96" width="1.2" height="0.9" fill="#8c8cac"/><text x="1004.6" y="144.9" font-size="6.10" textLength="15.14" lengthAdjust="spacingAndGlyphs">74.965</text><rect x="1002.4" y="142.56" width="1.2" height="0.9" fill="#8c8cac"/><text x="1004.6" y="162.5" font-size="6.10" textLength="15.14" lengthAdjust="spacingAndGlyphs">73.990</text><rect x="1002.4" y="160.15" width="1.2" height="0.9" fill="#8c8cac"/><text x="1004.6" y="180.1" font-size="6.10" textLength="15.14" lengthAdjust="spacingAndGlyphs">73.040</text><rect x="1002.4" y="177.74" width="1.2" height="0.9" fill="#8c8cac"/><text x="1004.6" y="197.7" font-size="6.10" textLength="15.14" lengthAdjust="spacingAndGlyphs">72.065</text><rect x="1002.4" y="195.33" width="1.2" height="0.9" fill="#8c8cac"/><text x="1004.6" y="215.3" font-size="6.10" textLength="15.14" lengthAdjust="spacingAndGlyphs">71.090</text><rect x="1002.4" y="212.92" width="1.2" height="0.9" fill="#8c8cac"/><text x="1004.6" y="232.9" font-size="6.10" textLength="15.14" lengthAdjust="spacingAndGlyphs">70.140</text><rect x="1002.4" y="230.52" width="1.2" height="0.9" fill="#8c8cac"/><text x="1004.6" y="250.5" font-size="6.10" textLength="15.14" lengthAdjust="spacingAndGlyphs">69.165</text><rect x="1002.4" y="248.11" width="1.2" height="0.9" fill="#8c8cac"/><text x="1004.6" y="268.0" font-size="6.10" textLength="15.14" lengthAdjust="spacingAndGlyphs">68.215</text><rect x="1002.4" y="265.70" width="1.2" height="0.9" fill="#8c8cac"/><text x="1004.6" y="285.6" font-size="6.10" textLength="15.14" lengthAdjust="spacingAndGlyphs">67.240</text><rect x="1002.4" y="283.29" width="1.2" height="0.9" fill="#8c8cac"/><text x="1004.6" y="303.2" font-size="6.10" textLength="15.14" lengthAdjust="spacingAndGlyphs">66.265</text><rect x="1002.4" y="300.88" width="1.2" height="0.9" fill="#8c8cac"/><text x="1004.6" y="320.8" font-size="6.10" textLength="15.14" lengthAdjust="spacingAndGlyphs">65.315</text><rect x="1002.4" y="318.48" width="1.2" height="0.9" fill="#8c8cac"/><rect x="1002.9" y="259.1" width="18.9" height="5.7" fill="#f4f4f6"/><text x="1004.6" y="264.0" font-size="6.10" style="fill:#4a5070;stroke:#4a5070" textLength="15.14" lengthAdjust="spacingAndGlyphs">68.435</text><text x="1003.8" y="327.3" font-size="6.10" textLength="8.26" lengthAdjust="spacingAndGlyphs">100</text><text x="1003.8" y="344.1" font-size="6.10" textLength="5.51" lengthAdjust="spacingAndGlyphs">70</text><text x="1003.8" y="370.3" font-size="6.10" textLength="5.51" lengthAdjust="spacingAndGlyphs">30</text><text x="1003.8" y="385.9" font-size="6.10" textLength="2.75" lengthAdjust="spacingAndGlyphs">0</text><text x="1004.6" y="395.2" font-size="6.10" textLength="15.14" lengthAdjust="spacingAndGlyphs">0.5479</text><text x="1004.6" y="417.9" font-size="6.10" textLength="9.63" lengthAdjust="spacingAndGlyphs">0.00</text><text x="1003.8" y="460.7" font-size="6.10" textLength="16.79" lengthAdjust="spacingAndGlyphs">-0.9848</text>
<rect x="2.48" y="462" width="0.8" height="2.2" fill="#8c8cac"/><text x="2.4" y="468.8" font-size="6.10" textLength="28.47" lengthAdjust="spacingAndGlyphs">29 Nov 2023</text><rect x="36.61" y="462" width="0.8" height="2.2" fill="#8c8cac"/><text x="36.5" y="468.8" font-size="6.10" textLength="29.86" lengthAdjust="spacingAndGlyphs">29 Nov 13:00</text><rect x="70.75" y="462" width="0.8" height="2.2" fill="#8c8cac"/><text x="70.6" y="468.8" font-size="6.10" textLength="29.86" lengthAdjust="spacingAndGlyphs">29 Nov 21:00</text><rect x="104.88" y="462" width="0.8" height="2.2" fill="#8c8cac"/><text x="104.8" y="468.8" font-size="6.10" textLength="29.86" lengthAdjust="spacingAndGlyphs">30 Nov 06:00</text><rect x="139.01" y="462" width="0.8" height="2.2" fill="#8c8cac"/><text x="138.9" y="468.8" font-size="6.10" textLength="29.86" lengthAdjust="spacingAndGlyphs">30 Nov 14:00</text><rect x="173.15" y="462" width="0.8" height="2.2" fill="#8c8cac"/><text x="173.0" y="468.8" font-size="6.10" textLength="29.86" lengthAdjust="spacingAndGlyphs">30 Nov 22:00</text><rect x="207.28" y="462" width="0.8" height="2.2" fill="#8c8cac"/><text x="207.2" y="468.8" font-size="6.10" textLength="27.07" lengthAdjust="spacingAndGlyphs">1 Dec 07:00</text><rect x="241.41" y="462" width="0.8" height="2.2" fill="#8c8cac"/><text x="241.3" y="468.8" font-size="6.10" textLength="27.07" lengthAdjust="spacingAndGlyphs">1 Dec 15:00</text><rect x="275.55" y="462" width="0.8" height="2.2" fill="#8c8cac"/><text x="275.4" y="468.8" font-size="6.10" textLength="27.07" lengthAdjust="spacingAndGlyphs">1 Dec 23:00</text><rect x="309.68" y="462" width="0.8" height="2.2" fill="#8c8cac"/><text x="309.6" y="468.8" font-size="6.10" textLength="27.07" lengthAdjust="spacingAndGlyphs">4 Dec 08:00</text><rect x="343.81" y="462" width="0.8" height="2.2" fill="#8c8cac"/><text x="343.7" y="468.8" font-size="6.10" textLength="27.07" lengthAdjust="spacingAndGlyphs">4 Dec 16:00</text><rect x="377.95" y="462" width="0.8" height="2.2" fill="#8c8cac"/><text x="377.8" y="468.8" font-size="6.10" textLength="27.07" lengthAdjust="spacingAndGlyphs">5 Dec 01:00</text><rect x="412.08" y="462" width="0.8" height="2.2" fill="#8c8cac"/><text x="412.0" y="468.8" font-size="6.10" textLength="27.07" lengthAdjust="spacingAndGlyphs">5 Dec 09:00</text><rect x="446.21" y="462" width="0.8" height="2.2" fill="#8c8cac"/><text x="446.1" y="468.8" font-size="6.10" textLength="27.07" lengthAdjust="spacingAndGlyphs">5 Dec 17:00</text><rect x="480.35" y="462" width="0.8" height="2.2" fill="#8c8cac"/><text x="480.2" y="468.8" font-size="6.10" textLength="27.07" lengthAdjust="spacingAndGlyphs">6 Dec 02:00</text><rect x="514.48" y="462" width="0.8" height="2.2" fill="#8c8cac"/><text x="514.4" y="468.8" font-size="6.10" textLength="27.07" lengthAdjust="spacingAndGlyphs">6 Dec 10:00</text><rect x="548.61" y="462" width="0.8" height="2.2" fill="#8c8cac"/><text x="548.5" y="468.8" font-size="6.10" textLength="27.07" lengthAdjust="spacingAndGlyphs">6 Dec 18:00</text><rect x="582.75" y="462" width="0.8" height="2.2" fill="#8c8cac"/><text x="582.6" y="468.8" font-size="6.10" textLength="27.07" lengthAdjust="spacingAndGlyphs">7 Dec 03:00</text><rect x="616.88" y="462" width="0.8" height="2.2" fill="#8c8cac"/><text x="616.8" y="468.8" font-size="6.10" textLength="26.70" lengthAdjust="spacingAndGlyphs">7 Dec 11:00</text><rect x="651.01" y="462" width="0.8" height="2.2" fill="#8c8cac"/><text x="650.9" y="468.8" font-size="6.10" textLength="27.07" lengthAdjust="spacingAndGlyphs">7 Dec 19:00</text><rect x="685.15" y="462" width="0.8" height="2.2" fill="#8c8cac"/><text x="685.0" y="468.8" font-size="6.10" textLength="27.07" lengthAdjust="spacingAndGlyphs">8 Dec 04:00</text><rect x="719.28" y="462" width="0.8" height="2.2" fill="#8c8cac"/><text x="719.2" y="468.8" font-size="6.10" textLength="27.07" lengthAdjust="spacingAndGlyphs">8 Dec 12:00</text><rect x="753.41" y="462" width="0.8" height="2.2" fill="#8c8cac"/><text x="753.3" y="468.8" font-size="6.10" textLength="27.07" lengthAdjust="spacingAndGlyphs">8 Dec 20:00</text><rect x="787.55" y="462" width="0.8" height="2.2" fill="#8c8cac"/><text x="787.4" y="468.8" font-size="6.10" textLength="29.49" lengthAdjust="spacingAndGlyphs">11 Dec 05:00</text><rect x="821.68" y="462" width="0.8" height="2.2" fill="#8c8cac"/><text x="821.6" y="468.8" font-size="6.10" textLength="29.49" lengthAdjust="spacingAndGlyphs">11 Dec 13:00</text><rect x="855.81" y="462" width="0.8" height="2.2" fill="#8c8cac"/><text x="855.7" y="468.8" font-size="6.10" textLength="29.49" lengthAdjust="spacingAndGlyphs">11 Dec 21:00</text><rect x="889.95" y="462" width="0.8" height="2.2" fill="#8c8cac"/><text x="889.8" y="468.8" font-size="6.10" textLength="29.86" lengthAdjust="spacingAndGlyphs">12 Dec 06:00</text><rect x="924.08" y="462" width="0.8" height="2.2" fill="#8c8cac"/><text x="924.0" y="468.8" font-size="6.10" textLength="29.86" lengthAdjust="spacingAndGlyphs">12 Dec 14:00</text><rect x="958.21" y="462" width="0.8" height="2.2" fill="#8c8cac"/><text x="958.1" y="468.8" font-size="6.10" textLength="29.86" lengthAdjust="spacingAndGlyphs">12 Dec 22:00</text>
<path d="M4.8 4.2H8.2L6.5 6.2Z" fill="#f4f4f4"/>
<text x="10.9" y="7.2" font-size="6.10" textLength="23.60" lengthAdjust="spacingAndGlyphs">CL-OIL,H1</text>
<text x="37.8" y="7.2" font-size="6.10" textLength="65.10" lengthAdjust="spacingAndGlyphs">68.285 68.495 68.275 68.435</text>
<text x="4.6" y="328.8" font-size="6.10" textLength="36.60" lengthAdjust="spacingAndGlyphs">RSI(14) 28.3554</text>
<text x="4.5" y="395.6" font-size="6.10" textLength="71.90" lengthAdjust="spacingAndGlyphs">MACD(12,26,9) -0.6814 -0.7280</text>
</svg></body></html>
